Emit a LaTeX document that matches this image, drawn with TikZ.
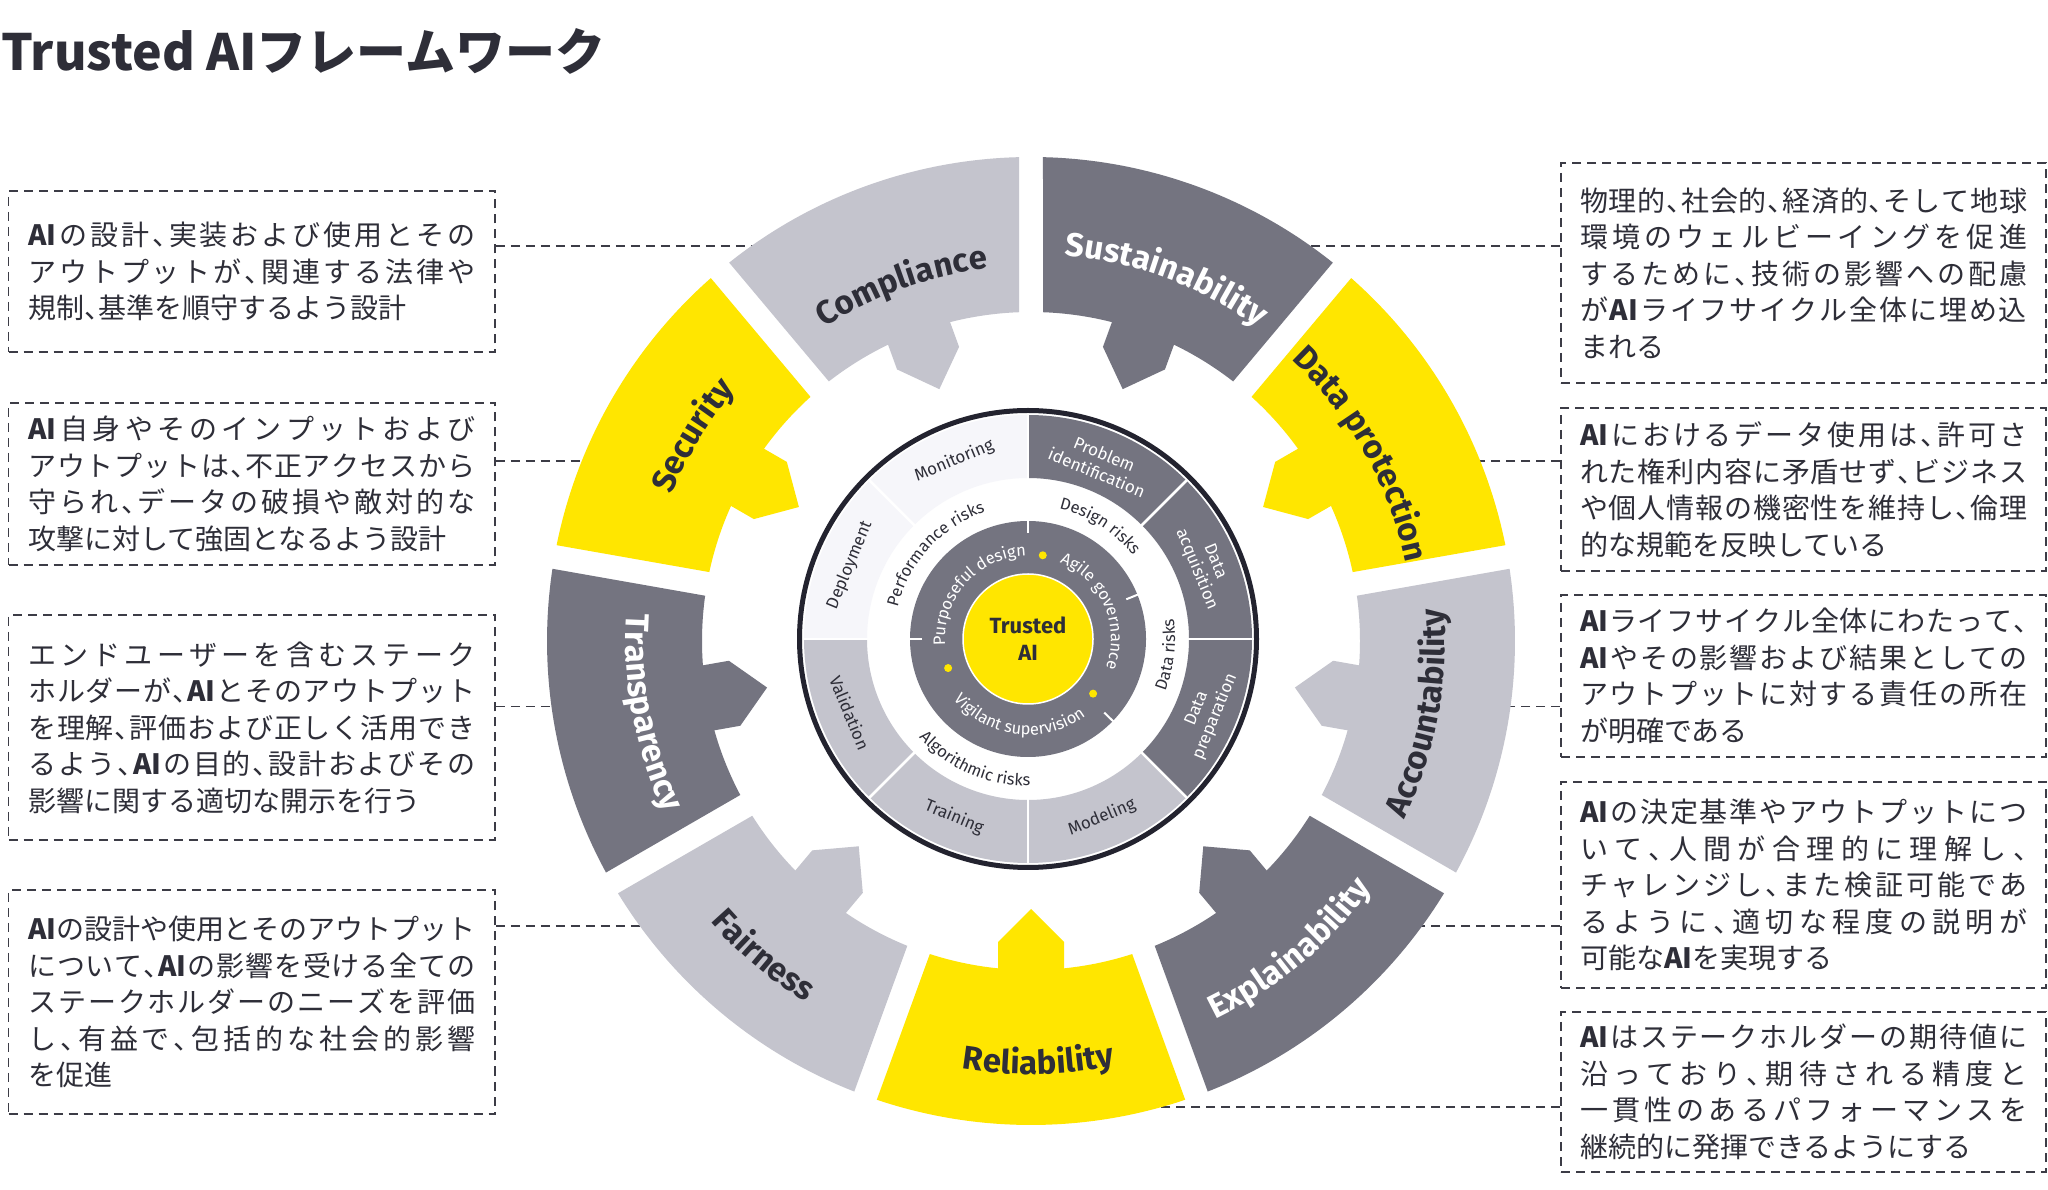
\documentclass[tikz,border=0pt]{standalone}
\usepackage{fontspec}
\setmainfont{Fira Sans}
\newfontfamily\jp{Noto Sans CJK JP}
\usetikzlibrary{decorations.text}
\definecolor{ey}{HTML}{FFE600}
\definecolor{dg}{HTML}{747480}
\definecolor{lg}{HTML}{C4C4CD}
\definecolor{vl}{HTML}{F6F6FA}
\definecolor{td}{HTML}{2E2E38}
\definecolor{rk}{HTML}{23232F}
\definecolor{dsh}{HTML}{3C3C46}
\makeatletter
\newdimen\jw \jw=447pt
\def\jl#1{\hbox to\jw{\def\jl@g{\hskip 0pt plus 1fil minus 1.2pt}\jl@first#1\@nil}}
\def\jn#1{\hbox{\let\jl@g\relax\jl@first#1\@nil}}
\def\jl@first#1{\jl@put{#1}\jl@next}
\def\jl@next#1{\ifx\@nil#1\else\jl@g\jl@put{#1}\expandafter\jl@next\fi}
\def\jl@put#1{\ifx、#1\hbox to .5em{、\hss}\else#1\fi}
\makeatother
\def\AI{{\bfseries AI}}
\newcommand\jt[1]{\vbox{\baselineskip=36.5pt\lineskiplimit=-100pt #1}}
\newcommand\segf{\bfseries\fontsize{33}{33}\selectfont}
\newcommand\rkf{\fontsize{16.5}{16.5}\selectfont}
\newcommand\cwtext[4]{\path[decorate,decoration={text along path,text align=center,text color=#3,text={#4}}] (#1+80:#2) arc[start angle=#1+80,end angle=#1-80,radius=#2];}
\newcommand\ccwtext[4]{\path[decorate,decoration={text along path,text align=center,text color=#3,text={#4}}] (#1-80:#2) arc[start angle=#1-80,end angle=#1+80,radius=#2];}
\tikzset{
  jbox/.style={draw=dsh, dash pattern=on 9pt off 6pt, line width=1.8pt, inner sep=0pt, text=td, font=\jp\fontsize{28}{36.5}\selectfont},
  leader/.style={draw=dsh, dash pattern=on 9pt off 6pt, line width=1.8pt},
  stg/.style={font=\fontsize{17}{20}\selectfont, align=center, inner sep=0pt},
}
\begin{document}
\begin{tikzpicture}[x=1pt,y=1pt]
\useasboundingbox (0,0) rectangle (2048,1189);
\fill[white] (0,0) rectangle (2048,1189);

% title
\node[anchor=base west, inner sep=0pt, text=td, font=\jp\bfseries\fontsize{50}{50}\selectfont] (title) at (1,1118) {Trusted AIフレームワーク};

% text boxes left
\node[jbox, minimum width=486.5pt, minimum height=161pt] (bl1) at (251.75,917.5) {\jt{%
\jl{\AI の設計、実装および使用とその}
\jl{アウトプットが、関連する法律や}
\jn{規制、基準を順守するよう設計}}};
\node[jbox, minimum width=486.5pt, minimum height=162pt] (bl2) at (251.75,705) {\jt{%
\jl{\AI 自身やそのインプットおよび}
\jl{アウトプットは、不正アクセスから}
\jl{守られ、データの破損や敵対的な}
\jn{攻撃に対して強固となるよう設計}}};
\node[jbox, minimum width=486.5pt, minimum height=225pt] (bl3) at (251.75,461.5) {\jt{%
\jl{エンドユーザーを含むステーク}
\jl{ホルダーが、\AI とそのアウトプット}
\jl{を理解、評価および正しく活用でき}
\jl{るよう、\AI の目的、設計およびその}
\jn{影響に関する適切な開示を行う}}};
\node[jbox, minimum width=486.5pt, minimum height=224pt] (bl4) at (251.75,187) {\jt{%
\jl{\AI の設計や使用とそのアウトプット}
\jl{について、\AI の影響を受ける全ての}
\jl{ステークホルダーのニーズを評価}
\jl{し、有益で、包括的な社会的影響}
\jn{を促進}}};

% text boxes right
\node[jbox, minimum width=485pt, minimum height=220pt] (br1) at (1803.5,916) {\jt{%
\jl{物理的、社会的、経済的、そして地球}
\jl{環境のウェルビーイングを促進}
\jl{するために、技術の影響への配慮}
\jl{が\AI ライフサイクル全体に埋め込}
\jn{まれる}}};
\node[jbox, minimum width=485pt, minimum height=163pt] (br2) at (1803.5,699.5) {\jt{%
\jl{\AI におけるデータ使用は、許可さ}
\jl{れた権利内容に矛盾せず、ビジネス}
\jl{や個人情報の機密性を維持し、倫理}
\jn{的な規範を反映している}}};
\node[jbox, minimum width=485pt, minimum height=162pt] (br3) at (1803.5,513) {\jt{%
\jl{\AI ライフサイクル全体にわたって、}
\jl{\AI やその影響および結果としての}
\jl{アウトプットに対する責任の所在}
\jn{が明確である}}};
\node[jbox, minimum width=485pt, minimum height=206pt] (br4) at (1803.5,304) {\jt{%
\jl{\AI の決定基準やアウトプットにつ}
\jl{いて、人間が合理的に理解し、}
\jl{チャレンジし、また検証可能であ}
\jl{るように、適切な程度の説明が}
\jn{可能な\AI を実現する}}};
\node[jbox, minimum width=485pt, minimum height=160pt] (br5) at (1803.5,97) {\jt{%
\jl{\AI はステークホルダーの期待値に}
\jl{沿っており、期待される精度と}
\jl{一貫性のあるパフォーマンスを}
\jn{継続的に発揮できるようにする}}};

% leader end points (inside the segments)
\coordinate (e1) at (790,943);
\coordinate (e2) at (615,728);
\coordinate (e3) at (585,482.5);
\coordinate (e4) at (675,263);
\coordinate (f1) at (1272,943);
\coordinate (f2) at (1447,728);
\coordinate (f3) at (1477,482.5);
\coordinate (f4) at (1387,263);
\coordinate (f5) at (1135,82);
\draw[leader] (bl1.east |- e1) -- (e1);
\draw[leader] (bl2.east |- e2) -- (e2);
\draw[leader] (bl3.east |- e3) -- (e3);
\draw[leader] (bl4.east |- e4) -- (e4);
\draw[leader] (br1.west |- f1) -- (f1);
\draw[leader] (br2.west |- f2) -- (f2);
\draw[leader] (br3.west |- f3) -- (f3);
\draw[leader] (br4.west |- f4) -- (f4);
\draw[leader] (br5.west |- f5) -- (f5);

% outer ring
\begin{scope}[shift={(1031,548)}]
\foreach \s/\col in {50/dg,10/ey,-30/lg,-70/dg,-110/ey,-150/lg,170/dg,130/ey,90/lg}{
  \fill[\col] (\s+1.42:484) arc[start angle=\s+1.42, end angle=\s+40-1.42, radius=484]
     -- (\s+40-2.09:329) arc[start angle=\s+40-2.09, end angle=\s+2.09, radius=329] -- cycle;
  \fill[\col, rotate=\s+20] (340,-33) -- (301,-33) -- (268,0) -- (301,33) -- (340,33) -- cycle;
}
\cwtext{110}{375}{td}{|\segf|Compliance}
\cwtext{69.5}{387}{white}{|\segf|Sustainability}
\cwtext{29.5}{383}{td}{|\segf|Data protection}
\cwtext{148.7}{388}{td}{|\segf|Security}
\ccwtext{-10.5}{414}{td}{|\segf|Accountability}
\ccwtext{-50}{421}{white}{|\segf|Explainability}
\ccwtext{-89}{433}{td}{|\segf|Reliability}
\ccwtext{229.6}{426}{td}{|\segf|Fairness}
\ccwtext{190.7}{405}{white}{|\segf|Transparency}
\end{scope}

% inner wheel
\begin{scope}[shift={(1028,550)}]
\foreach \a/\col in {0/dg,45/dg,90/vl,135/vl,180/lg,225/lg,270/lg,315/dg}{
  \fill[\col] (\a:224) arc[start angle=\a,end angle=\a+45,radius=224]
     -- (\a+45:161) arc[start angle=\a+45,end angle=\a,radius=161] -- cycle;}
\foreach \a in {0,45,...,315}{\draw[white,line width=2.5pt] (\a:159) -- (\a:226);}
\draw[rk, line width=5pt] (0,0) circle[radius=228.5];
\fill[dg] (0,0) circle[radius=118];
\foreach \a in {90,180,22,-44}{\draw[white,line width=2pt] (\a:106) -- (\a:119);}
\filldraw[fill=ey, draw=white, line width=1.5pt] (0,0) circle[radius=65];
\foreach \a in {80,200,320}{\fill[ey] (\a:85) circle[radius=4];}
\node[font=\bfseries\fontsize{22}{27}\selectfont, text=td, align=center, inner sep=0pt] (tai) at (0,0) {Trusted\\AI};
% stage labels
\node[stg, text=td, rotate=22.5] (mon) at (112.5:193) {Monitoring};
\node[stg, text=white, rotate=-22.5] (pid) at (67.5:190) {Problem\\identification};
\node[stg, text=white, rotate=-67.5] (dac) at (22.5:192) {Data\\acquisition};
\node[stg, text=white, rotate=67.5] (dpr) at (-22.5:193) {Data\\preparation};
\node[stg, text=td, rotate=22.5] (mod) at (-67.5:193) {Modeling};
\node[stg, text=td, rotate=-22.5] (trn) at (247.5:193) {Training};
\node[stg, text=td, rotate=-67.5] (val) at (202.5:193) {Validation};
\node[stg, text=td, rotate=67.5] (dep) at (157.5:193) {Deployment};
% risk labels
\cwtext{137.5}{134}{td}{|\rkf|Performance risks}
\cwtext{57.5}{134}{td}{|\rkf|Design risks}
\ccwtext{-6.5}{147}{td}{|\rkf|Data risks}
\ccwtext{246.5}{147}{td}{|\rkf|Algorithmic risks}
% inner ring labels
\cwtext{138}{83}{white}{|\rkf|Purposeful design}
\cwtext{23.5}{83}{white}{|\rkf|Agile governance}
\ccwtext{263}{96}{white}{|\rkf|Vigilant supervision}
\end{scope}
\end{tikzpicture}
\end{document}
